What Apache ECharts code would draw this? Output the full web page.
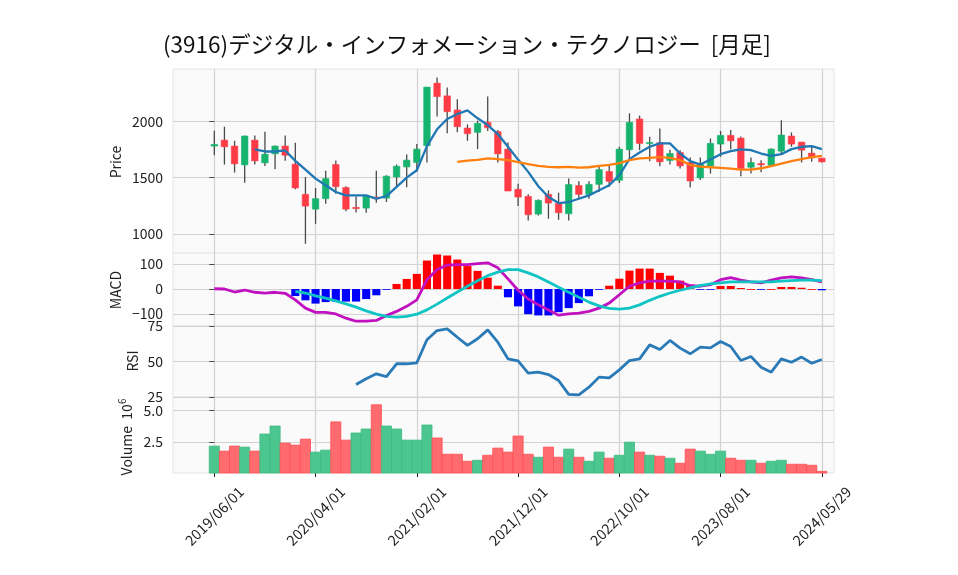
<!DOCTYPE html>
<html><head><meta charset="utf-8">
<script src="https://cdn.jsdelivr.net/npm/echarts@6/dist/echarts.min.js"></script>
<style>html,body{margin:0;padding:0;background:#fff}#c{width:958px;height:575px}</style>
</head><body><div id="c"></div>
<script>
// ---- data (monthly, index 0 = 2019/06) ----
const tickPositions = [0, 10, 20, 30, 40, 50, 60];
const tickLabels = ['2019/06/01', '2020/04/01', '2021/02/01', '2021/12/01', '2022/10/01', '2023/08/01', '2024/05/29'];

const opens = [1780,1833,1780,1613,1833,1631,1711,1780,1619,1351,1220,1313,1616,1411,1235,1229,1327,1318,1506,1595,1634,1783,2339,2226,2101,1940,1902,1991,1908,1753,1396,1333,1176,1351,1271,1179,1429,1351,1440,1554,1476,1747,2021,1805,1810,1652,1723,1634,1497,1604,1798,1875,1851,1592,1625,1610,1735,1869,1815,1717,1673];
const highs = [1917,1952,1827,1875,1875,1908,1785,1875,1810,1506,1408,1560,1652,1423,1333,1340,1560,1521,1616,1705,1798,2304,2390,2300,2196,1973,2006,2220,1923,1812,1446,1351,1306,1387,1366,1491,1467,1467,1610,1604,1774,2071,2051,1863,1937,1747,1744,1678,1678,1848,1914,1923,1866,1678,1655,1760,2009,1902,1815,1789,1675];
const lows = [1699,1616,1545,1455,1616,1604,1574,1649,1396,912,1089,1268,1357,1202,1190,1188,1277,1283,1408,1414,1551,1634,2042,1893,1902,1827,1753,1914,1634,1381,1247,1119,1164,1134,1125,1119,1318,1312,1372,1417,1452,1670,1744,1646,1601,1616,1580,1411,1479,1536,1685,1753,1512,1536,1548,1605,1700,1774,1634,1640,1635];
const closes = [1795,1774,1622,1869,1649,1708,1780,1699,1408,1247,1313,1491,1420,1220,1228,1336,1312,1512,1601,1655,1753,2304,2220,2086,1952,1890,1982,1943,1711,1381,1327,1170,1298,1274,1188,1438,1351,1440,1571,1467,1753,1991,1804,1812,1640,1714,1604,1470,1616,1804,1875,1827,1580,1634,1613,1753,1878,1798,1744,1676,1640];

const maShort = [null,null,null,null,1750,1732,1732,1741,1649,1571,1491,1432,1372,1342,1342,1342,1312,1336,1417,1500,1565,1780,1929,2021,2065,2098,2027,1967,1887,1774,1660,1551,1423,1327,1274,1283,1312,1342,1387,1432,1521,1664,1723,1774,1804,1804,1714,1646,1616,1661,1708,1735,1750,1744,1714,1693,1708,1753,1774,1780,1753];
const maLong = [null,null,null,null,null,null,null,null,null,null,null,null,null,null,null,null,null,null,null,null,null,null,null,null,1640,1650,1658,1670,1664,1655,1637,1619,1604,1595,1592,1595,1589,1592,1604,1613,1628,1655,1670,1676,1682,1676,1655,1612,1598,1592,1586,1579,1571,1571,1583,1601,1625,1646,1664,1682,1693];

const macdLine = [1,0,-12,-4,-13,-16,-13,-17,-43,-76,-93,-93,-99,-116,-128,-128,-125,-105,-89,-69,-43,37,77,95,97,97,101,104,84,40,-5,-40,-63,-83,-104,-99,-96,-89,-76,-56,-23,11,24,31,31,31,28,13,11,17,37,45,35,28,24,35,44,48,44,37,28];
const signalLine = [null,null,null,null,null,null,null,null,-9,-16,-27,-36,-47,-59,-72,-87,-100,-109,-112,-109,-100,-83,-60,-36,-12,11,33,53,67,77,77,64,48,28,7,-13,-33,-52,-67,-77,-80,-76,-63,-45,-29,-16,-5,4,13,20,24,28,28,28,28,28,31,33,35,35,33];
const macdHist = [null,null,null,null,null,null,null,null,-28,-45,-58,-52,-50,-50,-50,-40,-25,-3,20,40,60,113,137,133,117,91,72,45,13,-33,-69,-100,-105,-105,-92,-76,-56,-29,-3,13,41,73,81,81,64,53,33,17,-2,-2,12,12,4,0,-1,0,8,8,5,0,-5];

const rsi = [null,null,null,null,null,null,null,null,null,null,null,null,null,null,33.8,37.8,41.3,39.4,48.4,48.4,49.1,65.3,71.8,73,67.1,61.3,66,72.3,63.6,51.9,50.5,41.8,42.5,40.8,36.6,26.8,26.5,31.9,39,38.5,44.1,50.7,51.9,61.7,58.5,64.8,59.4,55.4,60.1,59.6,64.1,60.6,50.7,53.5,46,42.5,51.9,49.5,53.1,48.8,51.4];

const volumeM = [2.15,1.75,2.15,2.07,1.75,3.12,3.76,2.39,2.23,2.71,1.67,1.83,4.09,2.63,3.2,3.52,5.46,3.76,3.52,2.63,2.63,3.84,2.8,1.5,1.5,0.94,1.02,1.42,1.99,1.67,2.96,1.5,1.26,2.07,1.26,1.91,1.26,0.94,1.67,1.18,1.42,2.47,1.67,1.42,1.34,1.18,0.78,1.91,1.75,1.5,1.75,1.18,1.02,1.02,0.78,0.94,1.02,0.7,0.7,0.62,0.13];

// ---- styling ----
const UP = '#16b36e', DOWN = '#ff3c46';
const VUP = '#4cc68f', VUP_E = '#3dba82', VDOWN = '#ff6b6f', VDOWN_E = '#ff4f55';
const FONT = '"Noto Sans CJK JP", "Noto Sans", sans-serif';
const FS = 14;
const GRIDC = '#d2d2d2';
const L = 173, W = 661;
const panels = [
  {top: 69, height: 184},
  {top: 253, height: 73},
  {top: 326, height: 71},
  {top: 397, height: 76}
];
const XMIN = -4.08, XMAX = 61.2;

const candleData = opens.map((o, i) => [i, o, closes[i], lows[i], highs[i]]);
const volData = volumeM.map((v, i) => {
  const ref = i === 0 ? opens[0] : closes[i - 1];
  return [i, v, closes[i] >= ref ? 1 : 0];
});
const toXY = arr => arr.map((v, i) => v == null ? null : [i, v]).filter(d => d);
const histData = macdHist.map((v, i) => v == null ? null : [i, v]).filter(d => d);

const chart = echarts.init(document.getElementById('c'), null, {renderer: 'canvas'});

function xAxisFor(idx, bottom) {
  return {
    type: 'value', gridIndex: idx, min: XMIN, max: XMAX,
    axisLine: {show: false},
    axisTick: {show: bottom, customValues: tickPositions, length: 4, lineStyle: {color: '#222', width: 1}},
    axisLabel: bottom ? {
      show: true, customValues: tickPositions, rotate: 45, margin: 43,
      align: 'center', verticalAlign: 'middle',
      fontFamily: FONT, fontSize: 14.5, color: '#222',
      formatter: v => tickLabels[tickPositions.indexOf(Math.round(v))] || ''
    } : {show: false, customValues: tickPositions},
    splitLine: {show: true, lineStyle: {color: GRIDC, width: 1.2}}
  };
}
function yAxisFor(idx, min, max, ticks, fmt) {
  return {
    type: 'value', gridIndex: idx, min: min, max: max,
    axisLine: {show: false},
    axisTick: {show: true, customValues: ticks, length: 5, lineStyle: {color: '#444', width: 1}},
    axisLabel: {show: true, customValues: ticks, margin: 10, fontFamily: FONT, fontSize: FS, color: '#222',
      formatter: fmt || (v => String(v))},
    splitLine: {show: true, lineStyle: {color: GRIDC, width: 1.2}}
  };
}

const option = {
  animation: false,
  backgroundColor: '#ffffff',
  grid: panels.map(p => ({left: L, width: W, top: p.top, height: p.height, show: true,
    backgroundColor: '#fafafa', borderColor: '#e4e4e4', borderWidth: 1, containLabel: false})),
  xAxis: [xAxisFor(0, false), xAxisFor(1, false), xAxisFor(2, false), xAxisFor(3, true)],
  yAxis: [
    yAxisFor(0, 830, 2465, [1000, 1500, 2000]),
    yAxisFor(1, -147, 143, [-100, 0, 100], v => v < 0 ? '\u2212' + Math.abs(v) : String(v)),
    yAxisFor(2, 25, 75, [25, 50, 75]),
    yAxisFor(3, 0, 6.08, [2.5, 5.0], v => v.toFixed(1))
  ],
  series: [
    {
      type: 'custom', xAxisIndex: 0, yAxisIndex: 0, data: candleData, z: 3,
      encode: {x: 0, y: [1, 2, 3, 4]},
      renderItem: function (params, api) {
        const i = api.value(0), o = api.value(1), c = api.value(2), lo = api.value(3), hi = api.value(4);
        const pO = api.coord([i, o]), pC = api.coord([i, c]), pL = api.coord([i, lo]), pH = api.coord([i, hi]);
        const w = api.size([1, 0])[0] * 0.64;
        const up = c >= o;
        const col = up ? UP : DOWN;
        const top = Math.min(pO[1], pC[1]);
        const h = Math.max(Math.abs(pO[1] - pC[1]), 1.2);
        return {type: 'group', children: [
          {type: 'line', shape: {x1: pL[0], y1: pL[1], x2: pH[0], y2: pH[1]}, style: {stroke: '#4a4a4a', lineWidth: 1.3}},
          {type: 'rect', shape: {x: pO[0] - w / 2, y: top, width: w, height: h}, style: {fill: col, stroke: col, lineWidth: 0.6}}
        ]};
      }
    },
    {type: 'line', xAxisIndex: 0, yAxisIndex: 0, data: toXY(maShort), showSymbol: false, z: 4,
      lineStyle: {color: '#1f77b4', width: 2.3}},
    {type: 'line', xAxisIndex: 0, yAxisIndex: 0, data: toXY(maLong), showSymbol: false, z: 4,
      lineStyle: {color: '#ff7f0e', width: 2.3}},
    {
      type: 'custom', xAxisIndex: 1, yAxisIndex: 1, data: histData, z: 3,
      encode: {x: 0, y: 1},
      renderItem: function (params, api) {
        const i = api.value(0), v = api.value(1);
        const p0 = api.coord([i, 0]), p1 = api.coord([i, v]);
        const w = api.size([1, 0])[0] * 0.8;
        return {type: 'rect', shape: {x: p0[0] - w / 2, y: Math.min(p0[1], p1[1]), width: w, height: Math.max(Math.abs(p1[1] - p0[1]), 0.8)},
          style: {fill: v >= 0 ? '#ff0000' : '#0000ff'}};
      }
    },
    {type: 'line', xAxisIndex: 1, yAxisIndex: 1, data: toXY(macdLine), showSymbol: false, z: 4,
      lineStyle: {color: '#c010c0', width: 2.8}},
    {type: 'line', xAxisIndex: 1, yAxisIndex: 1, data: toXY(signalLine), showSymbol: false, z: 4,
      lineStyle: {color: '#10c4c4', width: 2.8}},
    {type: 'line', xAxisIndex: 2, yAxisIndex: 2, data: toXY(rsi), showSymbol: false, z: 4,
      lineStyle: {color: '#2a7ab7', width: 2.8}},
    {
      type: 'custom', xAxisIndex: 3, yAxisIndex: 3, data: volData, z: 3,
      encode: {x: 0, y: 1},
      renderItem: function (params, api) {
        const i = api.value(0), v = api.value(1), up = api.value(2) === 1;
        const p0 = api.coord([i, 0]), p1 = api.coord([i, v]);
        const w = api.size([1, 0])[0];
        return {type: 'rect', shape: {x: p0[0] - w / 2, y: p1[1], width: w, height: p0[1] - p1[1]},
          style: {fill: up ? VUP : VDOWN, stroke: up ? VUP_E : VDOWN_E, lineWidth: 0.8}};
      }
    }
  ],
  graphic: [
    {type: 'text', left: 163, top: 33, style: {text: '(3916)デジタル・インフォメーション・テクノロジー  [月足]',
      font: '22.5px ' + FONT, fill: '#111'}},
    {type: 'text', x: 116, y: 162, rotation: Math.PI / 2, style: {text: 'Price', font: FS + 'px ' + FONT, fill: '#222', align: 'center', verticalAlign: 'middle'}},
    {type: 'text', x: 116, y: 290, rotation: Math.PI / 2, style: {text: 'MACD', font: FS + 'px ' + FONT, fill: '#222', align: 'center', verticalAlign: 'middle'}},
    {type: 'text', x: 133, y: 361, rotation: Math.PI / 2, style: {text: 'RSI', font: FS + 'px ' + FONT, fill: '#222', align: 'center', verticalAlign: 'middle'}},
    {type: 'text', x: 127, y: 437, rotation: Math.PI / 2, style: {
      text: '{a|Volume  10}{s|6}', align: 'center', verticalAlign: 'middle',
      rich: {a: {font: FS + 'px ' + FONT, fill: '#222'}, s: {font: '10px ' + FONT, fill: '#222', padding: [0, 0, 9, 0]}}
    }}
  ]
};
chart.setOption(option);
</script>
</body></html>
